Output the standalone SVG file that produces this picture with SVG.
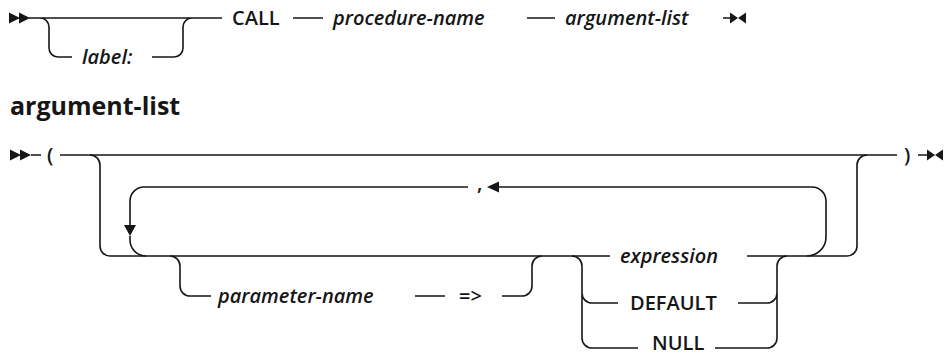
<svg xmlns="http://www.w3.org/2000/svg" width="944" height="355" viewBox="0 0 944 355">
<style>
.ln{fill:none;stroke:#161616;stroke-width:1.6;stroke-linecap:butt}
.ar{fill:#161616;stroke:none}
text{font-family:"Open Sans","DejaVu Sans",sans-serif;font-size:20px;font-weight:600;fill:#161616}
.it{font-style:italic}
.hd{font-weight:bold;font-size:25px}
</style>
<rect width="944" height="355" fill="#ffffff"/>
<g id="connectors">
<path class="ln" d="M29,18 H222 M40,18 A9,9 0 0 1 49,27 V48 A9,9 0 0 0 58,57 H72 M152,57 H174 A9,9 0 0 0 183,48 V27 A9,9 0 0 1 192,18 M293,18 H323 M527,18 H555 M723,18 H731"/>
<path class="ln" d="M31,155 H41 M60,155 H897 M918,155 H927"/>
<path class="ln" d="M90,155 A10,10 0 0 1 100,165 V246 A10,10 0 0 0 110,256 H610 M747,256 H847 A10,10 0 0 0 857,246 V165 A10,10 0 0 1 867,155"/>
<path class="ln" d="M807,256 A19,19 0 0 0 826,237 V201 A14,14 0 0 0 812,187 H499 M468,187 H144 A14,14 0 0 0 130,201 V225 M130,236 V240 A16,16 0 0 0 146,256"/>
<path class="ln" d="M170,256 A10,10 0 0 1 180,266 V286 A10,10 0 0 0 190,296 H211 M415,296 H445 M502,296 H522 A10,10 0 0 0 532,286 V266 A10,10 0 0 1 542,256"/>
<path class="ln" d="M572,256 A10,10 0 0 1 582,266 V338 A10,10 0 0 0 592,348 H638 M582,293 A10,10 0 0 0 592,303 H618 M738,303 H767 A10,10 0 0 0 777,293 M715,348 H767 A10,10 0 0 0 777,338 V266 A10,10 0 0 1 787,256"/>
<path class="ar" d="M9,12.5 L20,18 L9,23.5Z M19,12.5 L30,18 L19,23.5Z M730,12.5 L738,18 L730,23.5Z M746,12.5 L738,18 L746,23.5Z"/>
<path class="ar" d="M10,149.5 L21,155 L10,160.5Z M20,149.5 L31,155 L20,160.5Z M927,149.5 L935,155 L927,160.5Z M943,149.5 L935,155 L943,160.5Z"/>
<path class="ar" d="M487,187 L499,181.5 L499,192.5Z M124,225 L136,225 L130,236Z"/>
</g>
<g id="label"><text class="it" x="82" y="64">label:</text></g>
<g id="call"><text x="232" y="25">CALL</text></g>
<g id="procedure-name"><text class="it" x="333" y="25">procedure-name</text></g>
<g id="argument-list-ref"><text class="it" x="565" y="25">argument-list</text></g>
<g id="heading"><text class="hd" x="10" y="115">argument-list</text></g>
<g id="lparen"><text x="47" y="162">(</text></g>
<g id="rparen"><text x="904" y="162">)</text></g>
<g id="comma"><text x="477" y="190">,</text></g>
<g id="expression"><text class="it" x="620" y="263">expression</text></g>
<g id="parameter-name"><text class="it" x="218" y="303">parameter-name</text></g>
<g id="arrow-op"><text x="459" y="303">=&gt;</text></g>
<g id="default"><text x="630" y="310">DEFAULT</text></g>
<g id="null"><text x="652" y="350">NULL</text></g>
</svg>
